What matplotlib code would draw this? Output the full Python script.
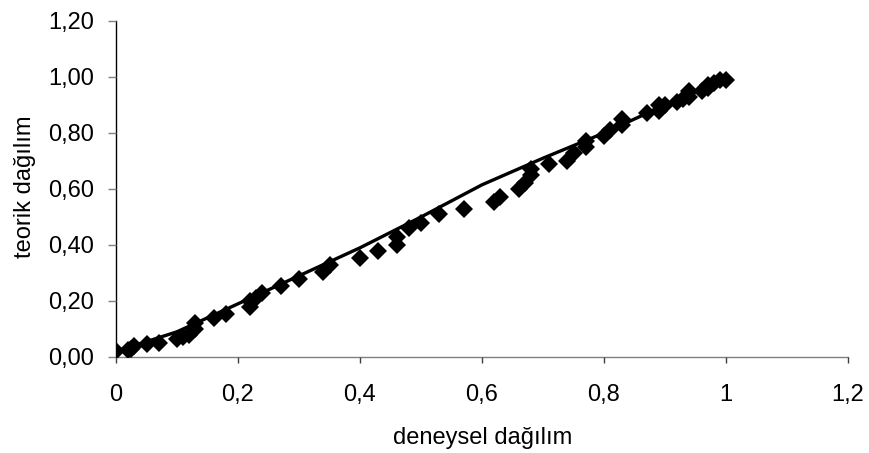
import matplotlib as mpl
mpl.use('Agg')
import matplotlib.pyplot as plt
from matplotlib.ticker import FixedLocator, FuncFormatter

plt.rcParams['font.family'] = ['Liberation Sans', 'DejaVu Sans']

# experimental (x) vs theoretical (y) distribution points
deneysel = [0.00, 0.02, 0.025, 0.03, 0.05, 0.07, 0.10, 0.11, 0.12, 0.13, 0.13,
            0.16, 0.18, 0.22, 0.22, 0.23, 0.24, 0.27, 0.30, 0.34, 0.35, 0.40,
            0.43, 0.46, 0.46, 0.48, 0.50, 0.53, 0.57, 0.62, 0.63, 0.66, 0.67,
            0.68, 0.68, 0.71, 0.74, 0.75, 0.77, 0.77, 0.80, 0.81, 0.83, 0.83,
            0.87, 0.89, 0.89, 0.90, 0.92, 0.93, 0.94, 0.94, 0.96, 0.97, 0.97,
            0.98, 0.99, 1.00]
teorik = [0.02, 0.025, 0.03, 0.04, 0.045, 0.05, 0.065, 0.07, 0.08, 0.10, 0.12,
          0.14, 0.155, 0.18, 0.20, 0.21, 0.23, 0.255, 0.28, 0.305, 0.33, 0.355,
          0.38, 0.40, 0.43, 0.46, 0.48, 0.51, 0.53, 0.555, 0.57, 0.60, 0.62,
          0.65, 0.67, 0.69, 0.70, 0.73, 0.75, 0.77, 0.79, 0.81, 0.83, 0.85,
          0.87, 0.88, 0.90, 0.90, 0.91, 0.92, 0.93, 0.95, 0.95, 0.96, 0.97,
          0.98, 0.99, 0.99]

# fitted curve
egri_x = [0.00, 0.10, 0.20, 0.30, 0.40, 0.50, 0.60, 0.70, 0.80, 0.90, 1.00]
egri_y = [0.02, 0.09, 0.19, 0.29, 0.39, 0.50, 0.615, 0.71, 0.80, 0.90, 0.99]

x_ticks = [0, 0.2, 0.4, 0.6, 0.8, 1.0, 1.2]
y_ticks = [0, 0.2, 0.4, 0.6, 0.8, 1.0, 1.2]

fig = plt.figure(figsize=(8.69, 4.53), dpi=100)
ax = fig.add_axes([116 / 869, 1 - 357 / 453, (848 - 116) / 869, (357 - 21) / 453])

ax.plot(egri_x, egri_y, color='black', lw=2.4, zorder=2)
ax.plot(deneysel, teorik, 'D', color='black', ms=9, mew=0, zorder=3)

ax.set_xlim(0, 1.2)
ax.set_ylim(0, 1.2)
ax.xaxis.set_major_locator(FixedLocator(x_ticks))
ax.yaxis.set_major_locator(FixedLocator(y_ticks))
ax.xaxis.set_major_formatter(FuncFormatter(lambda v, p: f"{v:g}".replace('.', ',')))
ax.yaxis.set_major_formatter(FuncFormatter(lambda v, p: f"{v:.2f}".replace('.', ',')))

for s in ['top', 'right']:
    ax.spines[s].set_visible(False)
ax.spines['left'].set_color('black')
ax.spines['bottom'].set_color('#808080')
ax.spines['left'].set_linewidth(1.0)
ax.spines['bottom'].set_linewidth(1.0)
ax.spines['left'].set_zorder(1)
ax.spines['bottom'].set_zorder(1)

ax.tick_params(axis='x', direction='out', length=4.5, width=1, color='#404040',
               labelsize=17, pad=15)
ax.tick_params(axis='y', direction='out', length=6, width=1, color='#808080',
               labelsize=17, pad=10)

fig.text(483 / 869, 1 - 438 / 453, 'deneysel dağılım', ha='center', va='center', fontsize=17)
fig.text(25 / 869, 1 - 187 / 453, 'teorik dağılım', ha='center', va='center',
         rotation=90, fontsize=17)

fig.savefig('out.png', dpi=100)
